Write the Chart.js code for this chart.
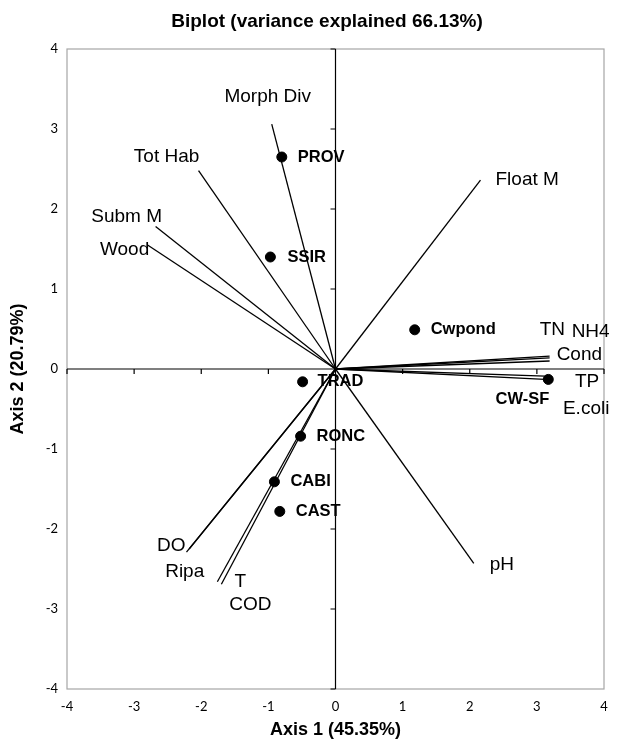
<!DOCTYPE html>
<html>
<head>
<meta charset="utf-8">
<script src="https://cdn.jsdelivr.net/npm/chart.js@4"></script>
<style>
  html, body { margin: 0; padding: 0; background: #fff; }
  #wrap { width: 621px; height: 741px; }
</style>
</head>
<body>
<div id="wrap"><canvas id="biplot" width="621" height="741"></canvas></div>
<script>
// Variables (vectors from origin)
const vecNames = ['Morph Div', 'Tot Hab', 'Subm M', 'Wood', 'Float M', 'TN', 'NH4', 'Cond', 'TP', 'E.coli', 'pH', 'DO', 'Ripa', 'T', 'COD'];
const vecX = [-0.95, -2.04, -2.68, -2.80, 2.16, 3.19, 3.19, 3.19, 3.12, 3.12, 2.06, -2.22, -2.18, -1.70, -1.76];
const vecY = [3.06, 2.48, 1.78, 1.55, 2.36, 0.16, 0.14, 0.10, -0.09, -0.13, -2.43, -2.29, -2.25, -2.69, -2.66];

// Sites (points)
const ptNames = ['PROV', 'SSIR', 'Cwpond', 'CW-SF', 'TRAD', 'RONC', 'CABI', 'CAST'];
const ptX = [-0.80, -0.97, 1.18, 3.17, -0.49, -0.52, -0.91, -0.83];
const ptY = [2.65, 1.40, 0.49, -0.13, -0.16, -0.84, -1.41, -1.78];

const axisTicks = [-4, -3, -2, -1, 0, 1, 2, 3, 4];

// label placement (pixel offset from the mark, alignment)
const vecLabelPos = [
  [-4, -27, 'center'], [-32, -14, 'center'], [-29, -10, 'center'], [-23, 5, 'center'],
  [15, 0, 'left'], [-10, -26, 'left'], [22, -26, 'left'], [7, -6, 'left'],
  [30, 6, 'left'], [18, 29, 'left'], [16, 1, 'left'], [-1, -6, 'right'],
  [-24, 23, 'left'], [13, -2, 'left'], [12, 23, 'left']
];
const ptLabelPos = [
  [16, 0, 'left'], [17, 0, 'left'], [16, 0, 'left'], [1, 20, 'right'],
  [15, 0, 'left'], [16, 0, 'left'], [16, 0, 'left'], [16, 0, 'left']
];

const vectorSets = vecNames.map((n, i) => ({
  label: n,
  data: [{ x: 0, y: 0 }, { x: vecX[i], y: vecY[i] }],
  showLine: true,
  borderColor: '#000',
  borderWidth: 1.3,
  pointRadius: 0,
  fill: false
}));

const pointSet = {
  label: 'sites',
  data: ptX.map((x, i) => ({ x: x, y: ptY[i] })),
  showLine: false,
  pointRadius: 5,
  pointBackgroundColor: '#000',
  pointBorderColor: '#000'
};

// frame, zero axes with small ticks, text labels
const framePlugin = {
  id: 'frame',
  beforeDatasetsDraw(chart) {
    const { ctx, chartArea: a, scales: { x, y } } = chart;
    ctx.save();
    ctx.strokeStyle = '#a6a6a6';
    ctx.lineWidth = 1.2;
    ctx.strokeRect(a.left, a.top, a.right - a.left, a.bottom - a.top);
    const x0 = x.getPixelForValue(0), y0 = y.getPixelForValue(0);
    ctx.strokeStyle = '#000';
    ctx.lineWidth = 1.2;
    ctx.beginPath();
    ctx.moveTo(a.left, y0); ctx.lineTo(a.right, y0);
    ctx.moveTo(x0, a.top); ctx.lineTo(x0, a.bottom);
    axisTicks.forEach(t => {
      const px = x.getPixelForValue(t);
      ctx.moveTo(px, y0); ctx.lineTo(px, y0 + 5);
      const py = y.getPixelForValue(t);
      ctx.moveTo(x0, py); ctx.lineTo(x0 - 5, py);
    });
    ctx.stroke();
    // title
    ctx.fillStyle = '#000';
    ctx.textAlign = 'center';
    ctx.textBaseline = 'middle';
    ctx.font = 'bold 19px "Liberation Sans", Arial, sans-serif';
    ctx.fillText('Biplot (variance explained 66.13%)', 327, 22);
    ctx.restore();
  },
  afterDatasetsDraw(chart) {
    const { ctx, scales: { x, y } } = chart;
    ctx.save();
    ctx.fillStyle = '#000';
    ctx.textBaseline = 'middle';
    ctx.font = '19px "Liberation Sans", Arial, sans-serif';
    vecNames.forEach((n, i) => {
      const p = vecLabelPos[i];
      ctx.textAlign = p[2];
      ctx.fillText(n, x.getPixelForValue(vecX[i]) + p[0], y.getPixelForValue(vecY[i]) + p[1]);
    });
    ctx.font = 'bold 16.5px "Liberation Sans", Arial, sans-serif';
    ptNames.forEach((n, i) => {
      const p = ptLabelPos[i];
      ctx.textAlign = p[2];
      ctx.fillText(n, x.getPixelForValue(ptX[i]) + p[0], y.getPixelForValue(ptY[i]) + p[1]);
    });
    ctx.restore();
  }
};

const tickFont = { family: 'Lato, "Liberation Sans", sans-serif', size: 13 };
const titleFont = { family: '"Liberation Sans", Arial, sans-serif', size: 18, weight: 'bold' };

new Chart(document.getElementById('biplot').getContext('2d'), {
  type: 'scatter',
  data: { datasets: [...vectorSets, pointSet] },
  options: {
    responsive: false,
    animation: false,
    layout: { padding: { top: 49, right: 17, left: 0, bottom: 0 } },
    plugins: {
      legend: { display: false },
      tooltip: { enabled: false },
      title: { display: false }
    },
    scales: {
      x: {
        type: 'linear', min: -4, max: 4,
        grid: { display: false },
        border: { display: false },
        ticks: { stepSize: 1, color: '#000', font: tickFont, padding: 2 },
        title: { display: true, text: 'Axis 1 (45.35%)', color: '#000', font: titleFont, padding: { top: 2, bottom: 0 } },
        afterFit(s) { s.height = 52; }
      },
      y: {
        type: 'linear', min: -4, max: 4,
        grid: { display: false },
        border: { display: false },
        ticks: { stepSize: 1, color: '#000', font: tickFont, padding: 1 },
        title: { display: true, text: 'Axis 2 (20.79%)', color: '#000', font: titleFont, padding: { top: 7, bottom: 4 } },
        afterFit(s) { s.width = 67; }
      }
    }
  },
  plugins: [framePlugin]
});
</script>
</body>
</html>
